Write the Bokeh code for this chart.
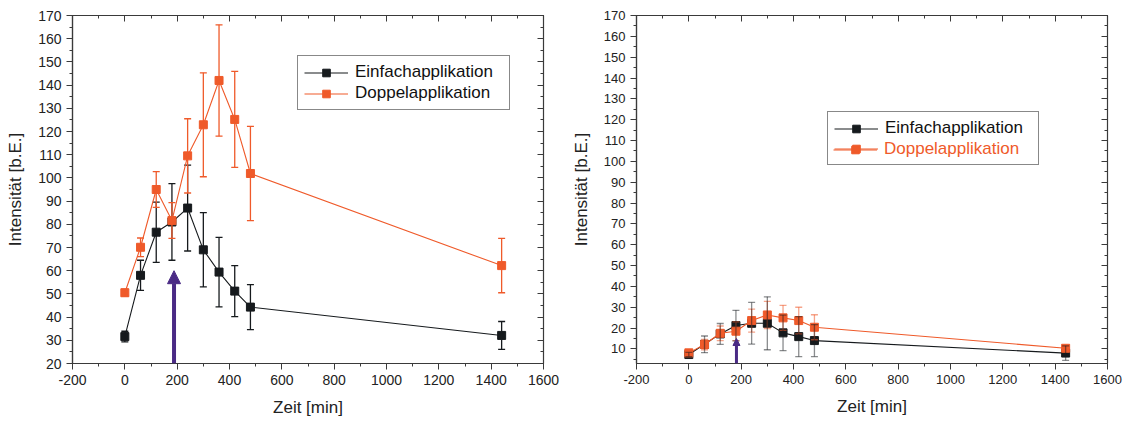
from bokeh.plotting import figure
from bokeh.models import (LinearAxis, SingleIntervalTicker, Range1d, Legend, LegendItem,
                          Arrow, NormalHead)
from bokeh.layouts import row
from bokeh.embed import file_html
from bokeh.resources import INLINE

# ---------------- data ----------------
time_min = [0, 60, 120, 180, 240, 300, 360, 420, 480, 1440]

left_einfach = [31.6, 58.0, 76.6, 81.0, 87.0, 69.0, 59.4, 51.2, 44.3, 32.1]
left_einfach_err = [2.3, 6.5, 13.0, 16.5, 18.5, 16.0, 15.0, 11.0, 9.7, 6.0]
left_doppel = [50.5, 70.1, 95.0, 81.6, 109.5, 122.9, 142.0, 125.2, 101.9, 62.2]
left_doppel_err = [1.5, 4.0, 7.7, 7.7, 16.0, 22.4, 24.0, 20.7, 20.3, 11.7]

right_einfach = [7.3, 12.2, 17.2, 21.2, 22.3, 22.3, 17.7, 15.9, 14.0, 8.0]
right_einfach_err = [1.0, 4.0, 5.0, 7.3, 10.0, 12.7, 8.5, 9.6, 7.7, 3.5]
right_doppel = [8.1, 12.1, 17.5, 18.5, 23.6, 26.3, 24.9, 23.6, 20.4, 10.3]
right_doppel_err = [1.0, 2.5, 3.5, 4.5, 5.5, 6.5, 6.0, 6.4, 6.0, 1.0]

series_names = ["Einfachapplikation", "Doppelapplikation"]
x_label = "Zeit [min]"
y_label = "Intensität [b.E.]"

# second application marker (arrow): x position and tip value
left_arrow_x, left_arrow_tip = 188, 60
right_arrow_x, right_arrow_tip = 182, 15

# ---------------- style ----------------
FONT = "Liberation Sans"
AX = "#3a3a3a"
BLACK = "#161a1d"
ORANGE = "#EF5A2A"
PURPLE = "#4a2a85"


def make_fig(ymin, ymax, left_border, right_border, tick_fs):
    p = figure(width=563, height=421, x_range=Range1d(-200, 1600), y_range=Range1d(ymin, ymax),
               output_backend="svg", toolbar_location=None,
               min_border_left=left_border, min_border_right=right_border,
               min_border_top=15, min_border_bottom=58,
               x_axis_label=x_label, y_axis_label=y_label)
    p.grid.visible = False
    p.outline_line_color = AX
    p.outline_line_width = 1.2
    p.background_fill_color = "white"
    p.border_fill_color = "white"
    xt = SingleIntervalTicker(interval=200, num_minor_ticks=2)
    yt = SingleIntervalTicker(interval=10, num_minor_ticks=2)
    p.xaxis.ticker = xt
    p.yaxis.ticker = yt
    p.xaxis.major_label_overrides = {-200: "-200"}
    for ax in (p.xaxis[0], p.yaxis[0]):
        ax.axis_line_color = AX
        ax.axis_line_width = 1.2
        ax.major_tick_line_color = AX
        ax.minor_tick_line_color = AX
        ax.major_tick_out = 6
        ax.major_tick_in = 0
        ax.minor_tick_out = 3
        ax.minor_tick_in = 0
        ax.major_label_text_font = FONT
        ax.major_label_text_font_size = tick_fs
        ax.major_label_text_color = "#222222"
        ax.major_label_standoff = 5
        ax.axis_label_text_font = FONT
        ax.axis_label_text_font_size = "17px"
        ax.axis_label_text_font_style = "normal"
        ax.axis_label_text_color = "#222222"
        ax.axis_label_standoff = 10
    for place, tk in (("above", xt), ("right", yt)):
        a = LinearAxis(ticker=tk, major_label_text_font_size="0px", major_label_standoff=0,
                       major_tick_in=6, major_tick_out=0, minor_tick_in=3, minor_tick_out=0,
                       axis_line_color=AX, major_tick_line_color=AX, minor_tick_line_color=AX)
        p.add_layout(a, place)
    return p


def add_series(p, y, err, color, err_color, err_alpha, draw_err=True, draw_main=True):
    rs = []
    if draw_main:
        ln = p.line(time_min, y, line_color=color, line_width=1.1)
        sc = p.scatter(time_min, y, marker="square", size=8, fill_color=color,
                       line_color=color)
        rs = [ln, sc]
    if draw_err:
        lo = [a - b for a, b in zip(y, err)]
        hi = [a + b for a, b in zip(y, err)]
        p.segment(time_min, lo, time_min, hi, line_color=err_color, line_width=1.3,
                  line_alpha=err_alpha)
        p.scatter(time_min, lo, marker="dash", size=7, line_color=err_color, line_width=1.3,
                  line_alpha=err_alpha)
        p.scatter(time_min, hi, marker="dash", size=7, line_color=err_color, line_width=1.3,
                  line_alpha=err_alpha)
    return rs


def legend_common(lg):
    lg.label_text_font = FONT
    lg.label_text_font_size = "17px"
    lg.glyph_width = 44
    lg.glyph_height = 19
    lg.label_height = 19
    lg.label_standoff = 7
    lg.spacing = 1
    lg.padding = 6
    lg.margin = 0


# ---------------- left chart ----------------
p1 = make_fig(20, 170, 72, 20, "14px")
b1 = add_series(p1, left_einfach, left_einfach_err, BLACK, BLACK, 1.0)
o1 = add_series(p1, left_doppel, left_doppel_err, ORANGE, ORANGE, 1.0)
p1.add_layout(Arrow(end=NormalHead(size=13, fill_color=PURPLE, line_color=PURPLE),
                    x_start=left_arrow_x, y_start=20, x_end=left_arrow_x, y_end=left_arrow_tip,
                    line_color=PURPLE, line_width=4))
lg1 = Legend(items=[LegendItem(label=series_names[0], renderers=b1),
                    LegendItem(label=series_names[1], renderers=o1)],
             location=(225, 253))
legend_common(lg1)
lg1.label_width = 148
lg1.label_text_color = "#111111"
lg1.border_line_color = "#111111"
lg1.border_line_width = 1.2
p1.add_layout(lg1)

# ---------------- right chart ----------------
p2 = make_fig(3, 170, 73, 19, "13px")
b2 = add_series(p2, right_einfach, right_einfach_err, BLACK, BLACK, 0.5, draw_err=False)
o2 = add_series(p2, right_doppel, right_doppel_err, ORANGE, ORANGE, 0.5, draw_err=False)
add_series(p2, right_doppel, right_doppel_err, ORANGE, ORANGE, 0.55, draw_main=False)
add_series(p2, right_einfach, right_einfach_err, BLACK, BLACK, 0.5, draw_main=False)
p2.add_layout(Arrow(end=NormalHead(size=7, fill_color=PURPLE, line_color=PURPLE),
                    x_start=right_arrow_x, y_start=3, x_end=right_arrow_x, y_end=right_arrow_tip,
                    line_color=PURPLE, line_width=3))
lg2a = Legend(items=[LegendItem(label=series_names[0], renderers=b2),
                     LegendItem(label=" ", renderers=o2)],
              location=(191, 198))
legend_common(lg2a)
lg2a.label_width = 147
lg2a.label_text_color = "#111111"
lg2a.border_line_color = "#111111"
lg2a.border_line_width = 1.2
p2.add_layout(lg2a)
lg2b = Legend(items=[LegendItem(label=series_names[1], renderers=o2)],
              location=(197, 204))
legend_common(lg2b)
lg2b.label_width = 147
lg2b.label_text_color = ORANGE
lg2b.border_line_color = None
lg2b.background_fill_alpha = 0
p2.add_layout(lg2b)

layout = row(p1, p2)
open("out.html", "w").write(file_html(layout, INLINE))
